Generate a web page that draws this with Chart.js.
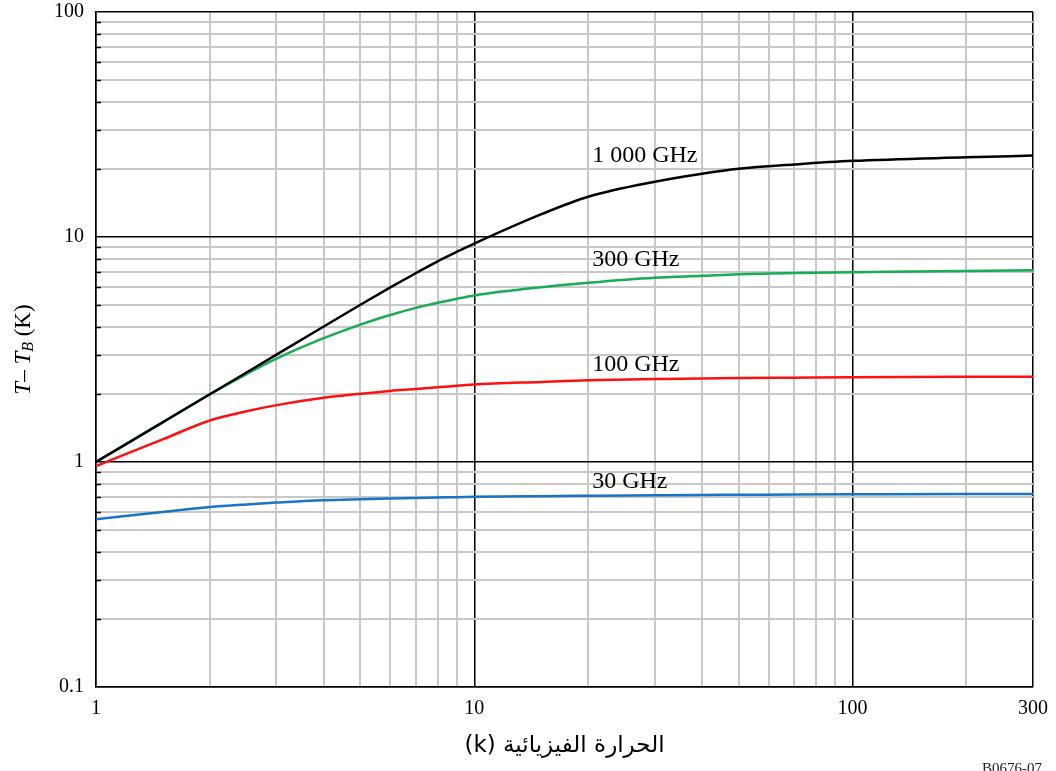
<!DOCTYPE html>
<html>
<head>
<meta charset="utf-8">
<script src="https://cdn.jsdelivr.net/npm/chart.js@4/dist/chart.umd.min.js"></script>
<style>
  html, body { margin: 0; padding: 0; background: #fff; }
  #wrap { width: 1056px; height: 771px; position: relative; }
</style>
</head>
<body>
<div id="wrap"><canvas id="chart" width="1056" height="771"></canvas></div>
<script>
/* =========================
    DATA
========================= */

// physical temperature (x axis)
const xValues = [1, 1.5, 2, 2.5, 3, 4, 5, 6, 7, 8, 9, 10, 15, 20, 30, 40, 50, 70, 100, 200, 300];

// T - T_B (K) for each frequency
const ghz1000 = [1.0, 1.5, 2.0, 2.5, 3.0, 4.0, 5.0, 5.97, 6.9, 7.8, 8.6, 9.35, 12.6, 15.1, 17.6, 19.1, 20.1, 21.0, 21.8, 22.6, 23.0];
const ghz300  = [1.0, 1.5, 2.0, 2.46, 2.88, 3.55, 4.08, 4.5, 4.84, 5.1, 5.32, 5.5, 5.98, 6.26, 6.59, 6.72, 6.83, 6.92, 6.97, 7.07, 7.11];
const ghz100  = [0.96, 1.26, 1.53, 1.68, 1.79, 1.93, 2.01, 2.07, 2.11, 2.15, 2.18, 2.21, 2.27, 2.31, 2.34, 2.35, 2.36, 2.37, 2.38, 2.39, 2.39];
const ghz30   = [0.556, 0.60, 0.631, 0.648, 0.66, 0.676, 0.683, 0.688, 0.692, 0.695, 0.698, 0.70, 0.705, 0.708, 0.712, 0.714, 0.715, 0.717, 0.718, 0.72, 0.72];

const seriesNames = ["1 000 GHz", "300 GHz", "100 GHz", "30 GHz"];
const seriesColors = ["#000000", "#16ad55", "#ff1010", "#1874c6"];

// tick labels
const xTickLabels = [1, 10, 100, 300];
const yTickLabels = [0.1, 1, 10, 100];

// grid lines (1-2-...-9 per decade)
const xGrid = [1, 2, 3, 4, 5, 6, 7, 8, 9, 10, 20, 30, 40, 50, 60, 70, 80, 90, 100, 200, 300];
const yGrid = [0.1, 0.2, 0.3, 0.4, 0.5, 0.6, 0.7, 0.8, 0.9, 1, 2, 3, 4, 5, 6, 7, 8, 9, 10, 20, 30, 40, 50, 60, 70, 80, 90, 100];

// where the curve names sit (data coords of text left / middle)
const labelX = 20.5;
const labelY = [23, 7.9, 2.7, 0.815];

/* =========================
    HELPERS
========================= */

const SERIF = "'Liberation Serif', 'DejaVu Serif', serif";

function isMajor(v) {
  const l = Math.log10(v);
  return Math.abs(l - Math.round(l)) < 1e-6;
}

function toPoints(ys) {
  return xValues.map((x, i) => ({ x: x, y: ys[i] }));
}

/* =========================
    PLUGIN: texts + inner ticks
========================= */

const extras = {
  id: "extras",
  afterDatasetsDraw(chart) {
    const ctx = chart.ctx;
    const xs = chart.scales.x;
    const ys = chart.scales.y;
    const area = chart.chartArea;

    // small inner ticks on left axis
    ctx.save();
    ctx.strokeStyle = "#000";
    ctx.lineWidth = 1.5;
    yGrid.forEach(v => {
      if (isMajor(v)) return;
      const py = Math.round(ys.getPixelForValue(v)) + 0.5;
      ctx.beginPath();
      ctx.moveTo(area.left, py);
      ctx.lineTo(area.left + 5, py);
      ctx.stroke();
    });
    ctx.restore();

    // curve names
    ctx.save();
    ctx.fillStyle = "#000";
    ctx.font = "24px " + SERIF;
    ctx.textBaseline = "middle";
    ctx.textAlign = "left";
    seriesNames.forEach((name, i) => {
      ctx.fillText(name, xs.getPixelForValue(labelX), ys.getPixelForValue(labelY[i]));
    });
    ctx.restore();

    // x title (arabic)
    ctx.save();
    ctx.fillStyle = "#000";
    ctx.font = "23px 'DejaVu Sans', sans-serif";
    ctx.textAlign = "center";
    ctx.textBaseline = "middle";
    ctx.direction = "rtl";
    ctx.fillText("الحرارة الفيزيائية (k)", (area.left + area.right) / 2, 746);
    ctx.restore();

    // y title: T – T_B (K)
    ctx.save();
    ctx.fillStyle = "#000";
    ctx.translate(24, (area.top + area.bottom) / 2);
    ctx.rotate(-Math.PI / 2);
    ctx.textBaseline = "middle";
    const parts = [
      { t: "T", f: "italic 23px " + SERIF, dy: 0 },
      { t: "– ", f: "23px " + SERIF, dy: 0 },
      { t: "T", f: "italic 23px " + SERIF, dy: 0 },
      { t: "B", f: "italic 16px " + SERIF, dy: 5 },
      { t: " (K)", f: "23px " + SERIF, dy: 0 }
    ];
    let total = 0;
    parts.forEach(p => { ctx.font = p.f; total += ctx.measureText(p.t).width; });
    let cx = -total / 2;
    parts.forEach(p => {
      ctx.font = p.f;
      ctx.fillText(p.t, cx, p.dy);
      cx += ctx.measureText(p.t).width;
    });
    ctx.restore();

    // figure code, cut at bottom edge
    ctx.save();
    ctx.fillStyle = "#222";
    ctx.font = "15px " + SERIF;
    ctx.textAlign = "right";
    ctx.textBaseline = "top";
    ctx.fillText("B0676-07", 1042, 762);
    ctx.restore();
  }
};

/* =========================
    CHART
========================= */

const datasets = [ghz1000, ghz300, ghz100, ghz30].map((ys, i) => ({
  label: seriesNames[i],
  data: toPoints(ys),
  borderColor: seriesColors[i],
  borderWidth: 2.5,
  pointRadius: 0,
  fill: false,
  cubicInterpolationMode: "monotone"
}));

new Chart(document.getElementById("chart"), {
  type: "line",
  data: { datasets },
  plugins: [extras],
  options: {
    responsive: false,
    animation: false,
    layout: { padding: { top: 12, right: 23, left: 0, bottom: 0 } },
    plugins: {
      legend: { display: false },
      tooltip: { enabled: false }
    },
    scales: {
      x: {
        type: "logarithmic",
        min: 1,
        max: 300,
        afterBuildTicks: s => { s.ticks = xGrid.map(v => ({ value: v })); },
        afterFit: s => {
          s.height = 84;
          s.paddingLeft = 0;
          s.paddingRight = 0;
        },
        ticks: {
          autoSkip: false,
          maxRotation: 0,
          padding: 10,
          color: "#000",
          font: { family: SERIF, size: 20 },
          callback: v => xTickLabels.includes(v) ? String(v) : ""
        },
        grid: {
          drawTicks: false,
          color: c => (isMajor(c.tick.value) || c.tick.value === 300) ? "#000" : "#c8c8c8",
          lineWidth: c => (isMajor(c.tick.value) || c.tick.value === 300) ? 1.5 : 2
        },
        border: { color: "#000", width: 1.5 }
      },
      y: {
        type: "logarithmic",
        min: 0.1,
        max: 100,
        afterBuildTicks: s => { s.ticks = yGrid.map(v => ({ value: v })); },
        afterFit: s => {
          s.width = 96;
          s.paddingTop = 0;
          s.paddingBottom = 0;
        },
        ticks: {
          autoSkip: false,
          padding: 12,
          color: "#000",
          font: { family: SERIF, size: 20 },
          callback: v => yTickLabels.includes(v) ? String(v) : ""
        },
        grid: {
          drawTicks: false,
          color: c => isMajor(c.tick.value) ? "#000" : "#c8c8c8",
          lineWidth: c => isMajor(c.tick.value) ? 1.5 : 2
        },
        border: { color: "#000", width: 1.5 }
      }
    }
  }
});
</script>
</body>
</html>
